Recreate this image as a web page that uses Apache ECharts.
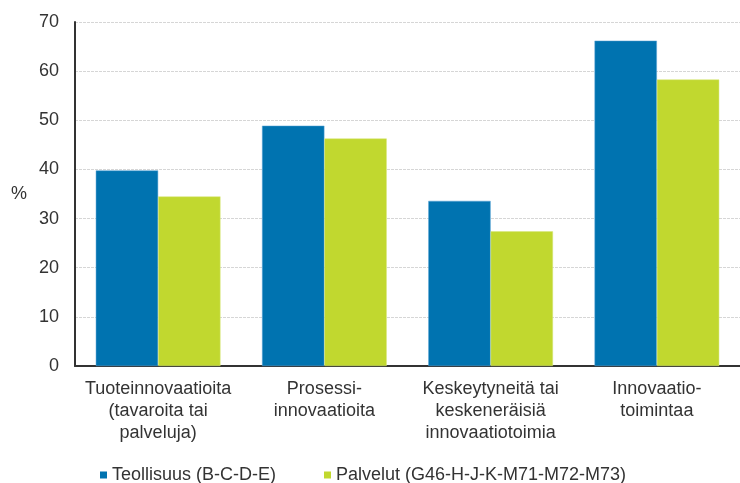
<!DOCTYPE html>
<html>
<head>
<meta charset="utf-8">
<script src="https://cdn.jsdelivr.net/npm/echarts@6/dist/echarts.min.js"></script>
<style>
  html, body { margin: 0; padding: 0; background: #fff; }
  #chart { width: 740px; height: 483px; }
</style>
</head>
<body>
<div id="chart"></div>
<script>
const categories = [
  "Tuoteinnovaatioita\n(tavaroita tai\npalveluja)",
  "Prosessi-\ninnovaatioita",
  "Keskeytyneitä tai\nkeskeneräisiä\ninnovaatiotoimia",
  "Innovaatio-\ntoimintaa",
];
const teollisuus = [39.8, 48.9, 33.6, 66.2];
const palvelut = [34.5, 46.3, 27.4, 58.3];
const seriesNames = ["Teollisuus (B-C-D-E)", "Palvelut (G46-H-J-K-M71-M72-M73)"];

const font = "Liberation Sans, Arial, sans-serif";
const textColor = "#333";

const chart = echarts.init(document.getElementById("chart"));
chart.setOption({
  animation: false,
  color: ["#0073b0", "#c1d82f"],
  textStyle: { fontFamily: font },
  grid: { left: 75, right: 0, top: 22, bottom: 117 },
  legend: {
    left: 95,
    top: 461,
    icon: "rect",
    itemWidth: 7,
    itemHeight: 7,
    itemGap: 48,
    itemStyle: { borderWidth: 0 },
    textStyle: { fontSize: 18, color: textColor, fontFamily: font },
    data: seriesNames,
  },
  xAxis: {
    type: "category",
    data: categories,
    axisTick: { show: false },
    axisLine: { lineStyle: { color: "#333", width: 2 } },
    axisLabel: {
      interval: 0,
      margin: 12,
      fontSize: 18,
      lineHeight: 22,
      color: textColor,
      fontFamily: font,
    },
  },
  yAxis: {
    type: "value",
    min: 0,
    max: 70,
    interval: 10,
    name: "%",
    nameLocation: "middle",
    nameRotate: 0,
    nameGap: 48,
    nameTextStyle: { fontSize: 18, color: textColor, fontFamily: font },
    axisLine: { show: true, lineStyle: { color: "#333", width: 2 } },
    axisTick: { show: false },
    axisLabel: { margin: 16, fontSize: 18, color: textColor, fontFamily: font },
    splitLine: { lineStyle: { color: "#d6d6d6", type: [3, 1] } },
  },
  series: [
    {
      name: seriesNames[0],
      type: "bar",
      data: teollisuus,
      barGap: "0%",
      barCategoryGap: "25%",
      itemStyle: { borderColor: "#5aa5d6", borderWidth: 0.5 },
    },
    {
      name: seriesNames[1],
      type: "bar",
      data: palvelut,
      barGap: "0%",
      barCategoryGap: "25%",
      itemStyle: { borderColor: "#d6e77a", borderWidth: 0.5 },
    },
  ],
});
</script>
</body>
</html>
